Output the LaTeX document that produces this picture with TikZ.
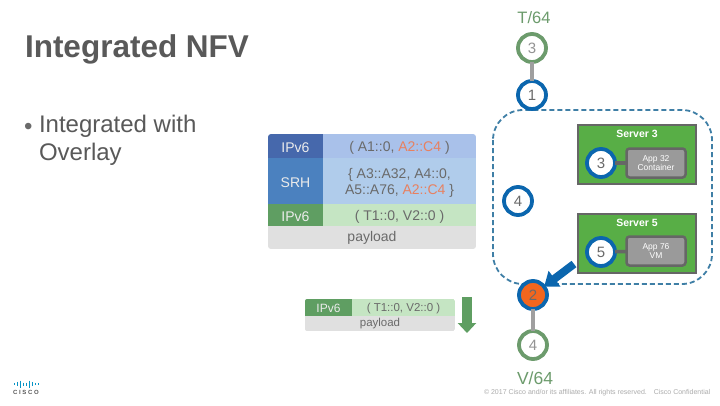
\documentclass[tikz,border=0pt]{standalone}
\usepackage{fontspec}
\setmainfont{Liberation Sans}
\usetikzlibrary{arrows.meta,calc}
\definecolor{tg}{HTML}{6C9B6C}
\definecolor{cblue}{HTML}{0B66AE}
\definecolor{dashb}{HTML}{3F7FA6}
\definecolor{srv}{HTML}{58AE46}
\definecolor{bord}{HTML}{666666}
\definecolor{appg}{HTML}{9A9A9A}
\definecolor{txt}{HTML}{6A6A6A}
\definecolor{hd}{HTML}{595959}
\definecolor{hA}{HTML}{4668AC}
\definecolor{hB}{HTML}{4B81BF}
\definecolor{hC}{HTML}{5F9E62}
\definecolor{cA}{HTML}{A9C1EA}
\definecolor{cB}{HTML}{B0CCEB}
\definecolor{cC}{HTML}{C5E5C3}
\definecolor{cD}{HTML}{E0E0E0}
\definecolor{red2}{HTML}{E8805F}
\definecolor{orng}{HTML}{F2661E}
\tikzset{
 x=1pt,y=-1pt,
 every node/.style={inner sep=0pt,outer sep=0pt},
 ring/.style={circle,draw=cblue,line width=3.8pt,fill=white,minimum size=28pt,text=txt,font=\fontsize{15}{15}\selectfont},
 gring/.style={ring,draw=tg,text=gray!85,minimum size=28pt},
 link/.style={draw=gray!75,line width=3.5pt},
 srvbox/.style={draw=bord,line width=2.5pt,fill=srv,anchor=north west,minimum width=118pt,minimum height=59pt},
 srvtitle/.style={text=white,font=\bfseries\fontsize{10.5}{11}\selectfont},
 appbox/.style={draw=bord,line width=2.5pt,fill=appg,rounded corners=3pt,minimum width=59pt,minimum height=29pt,text=white,align=center,font=\fontsize{8.5}{9}\selectfont},
 hcell/.style={anchor=north west,yshift=-1.5pt,text=white!92!black,minimum width=55pt,font=\fontsize{14}{16}\selectfont},
 ccell/.style={anchor=north west,yshift=-1.5pt,text=txt,minimum width=153pt,align=center,font=\fontsize{14}{16}\selectfont},
 shcell/.style={anchor=north west,yshift=-1pt,text=white!92!black,minimum width=47pt,minimum height=17pt,font=\fontsize{12}{14}\selectfont},
 scell/.style={anchor=north west,yshift=-1pt,text=txt,minimum height=17pt,minimum width=103pt,font=\fontsize{11.5}{14}\selectfont},
 dots/.style={draw=dashb,line width=1.8pt,dash pattern=on 5pt off 3pt,rounded corners=30pt},
 blockarrow/.style={line width=9pt},
 logobar/.style={draw=cblue!70!cyan,line width=0.9pt},
}
\begin{document}
\begin{tikzpicture}
\useasboundingbox (0,0) rectangle (720,405);
\fill[white] (0,0) rectangle (720,405);
\node[anchor=west,text=hd,font=\bfseries\fontsize{31.5}{32}\selectfont] (title) at (25,49) {Integrated NFV};
\node[anchor=west,text=txt,font=\fontsize{24}{28}\selectfont] (bul) at (24,129) {•};
\node[anchor=north west,text=hd,align=left,font=\fontsize{24}{28}\selectfont] (bt) at (39,115) {Integrated with\\Overlay};
% table
\begin{scope}
\clip[rounded corners=3pt] (268,134) rectangle (476,249);
\fill[hA] (268,134) rectangle (323,158);
\fill[hB] (268,158) rectangle (323,204);
\fill[hC] (268,204) rectangle (323,226);
\fill[cA] (323,134) rectangle (476,158);
\fill[cB] (323,158) rectangle (476,204);
\fill[cC] (323,204) rectangle (476,226);
\fill[cD] (268,226) rectangle (476,249);
\end{scope}
\node[hcell,minimum height=24pt] (h1) at (268,134) {IPv6};
\node[hcell,minimum height=46pt] (h2) at (268,158) {SRH};
\node[hcell,minimum height=22pt] (h3) at (268,204) {IPv6};
\node[ccell,minimum height=24pt] (c1) at (323,134) {( A1::0, \textcolor{red2}{A2::C4} )};
\node[ccell,minimum height=46pt] (c2) at (323,158) {\fontsize{14}{17}\selectfont \{ A3::A32, A4::0,\\A5::A76, \textcolor{red2}{A2::C4} \}};
\node[ccell,minimum height=22pt] (c3) at (323,204) {( T1::0, V2::0 )};
\node[text=txt,font=\fontsize{14}{16}\selectfont] (pl) at (372,238) {payload};
% small table
\begin{scope}
\clip[rounded corners=2pt] (305,299) rectangle (455,331);
\fill[hC] (305,299) rectangle (352,316);
\fill[cC] (352,299) rectangle (455,316);
\fill[cD] (305,316) rectangle (455,331);
\end{scope}
\node[shcell] (sh) at (305,299) {IPv6};
\node[scell] (sc) at (352,299) {( T1::0, V2::0 )};
\node[text=txt,font=\fontsize{11.5}{14}\selectfont] (spl) at (380,324) {payload};
\coordinate (gs) at (467,297);
\coordinate (ge) at (467,333);
\draw[blockarrow,draw=hC,-{Triangle[length=10pt,width=18pt]},line width=10pt] (gs) -- (ge);
% dashed
\draw[dots] (493,110) rectangle (712,284);
% servers
\node[srvbox] (s3) at (578,125) {};
\node[srvtitle] (s3t) at (637,134) {Server 3};
\node[appbox] (a3) at (656,163) {App 32\\Container};
\node[ring] (n3) at (601,163) {3};
\draw[bord,line width=3.5pt] (n3) -- (a3);
\node[srvbox] (s5) at (578,214) {};
\node[srvtitle] (s5t) at (637,223) {Server 5};
\node[appbox] (a5) at (656,251) {App 76\\VM};
\node[ring] (n5) at (601,252) {5};
\draw[bord,line width=3.5pt] (n5) -- (a5);
% ring path
\node[text=tg,font=\fontsize{16.5}{17}\selectfont] (t64) at (534,18) {T/64};
\node[gring] (t3) at (532,48) {3};
\node[ring] (n1) at (532,95) {1};
\draw[link] (t3) -- (n1);
\node[ring] (n4) at (518,201) {4};
\node[ring,fill=orng] (n2) at (533,295) {2};
\node[gring] (v4) at (533,345) {4};
\draw[link] (n2) -- (v4);
\node[text=tg,font=\fontsize{17.5}{18}\selectfont] (v64) at (535,378) {V/64};
\coordinate (bs) at (574,264);
\draw[blockarrow,draw=cblue,line width=8pt,-{Triangle[length=13pt,width=19pt]}] (bs) -- (n2);
% footer
\node[anchor=west,text=gray!65,font=\fontsize{7}{8}\selectfont] (cp) at (484,393) {© 2017 Cisco and/or its affiliates. All rights reserved.\quad Cisco Confidential};
% logo
\foreach \xx/\hh in {14/1.2,17/2.2,20/3.5,23/1.5,26/1.5,29/3.5,32/2.2,35/1.2,38/0.8}
  \draw[logobar] (\xx,384-\hh) -- (\xx,384+\hh);
\node[text=hd,font=\bfseries\fontsize{6}{6}\selectfont] (cisco) at (26,392) {C I S C O};
\end{tikzpicture}
\end{document}
